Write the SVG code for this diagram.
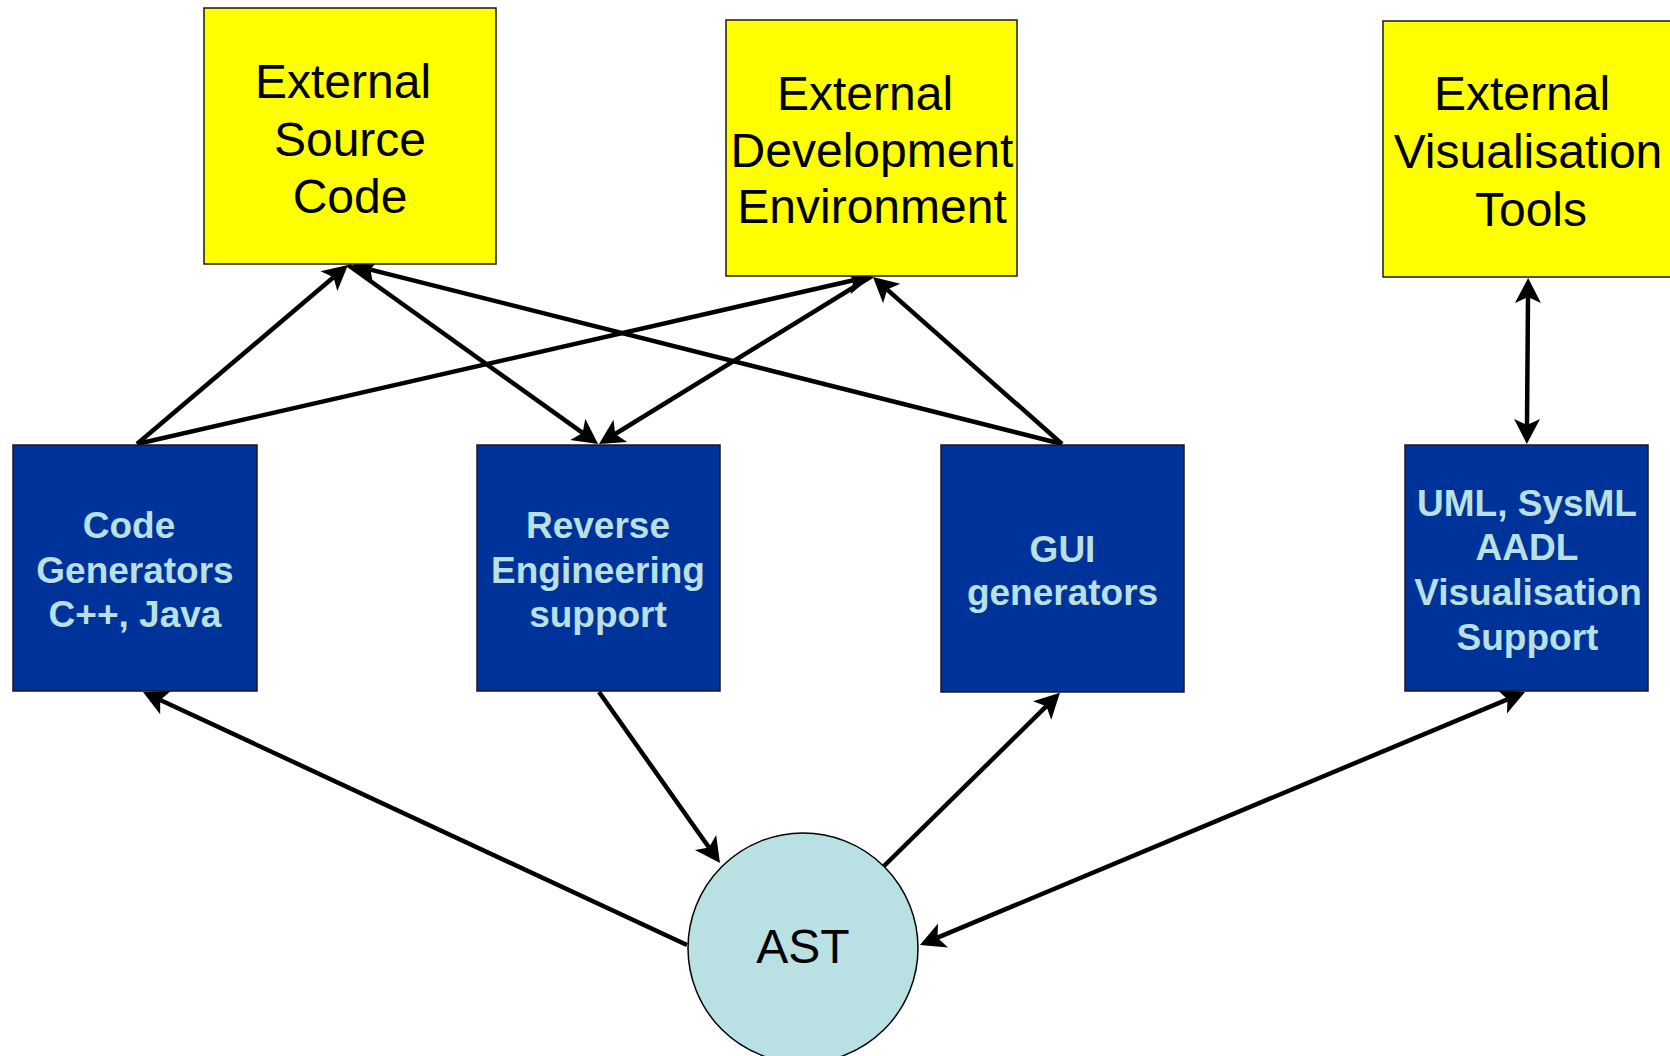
<svg xmlns="http://www.w3.org/2000/svg" width="1670" height="1056" viewBox="0 0 1670 1056">
  <style>
    .ext { fill: #FFFF00; stroke: #1a1a1a; stroke-width: 1.5; }
    .tool { fill: #003399; stroke: #1a1a1a; stroke-width: 1.5; }
    .ast { fill: #B9E0E3; stroke: #000; stroke-width: 1.5; }
    .extText { font-family: "Liberation Sans", Arial, sans-serif; font-size: 48px; fill: #000; text-anchor: middle; }
    .toolText { font-family: "Liberation Sans", Arial, sans-serif; font-size: 37px; font-weight: bold; fill: #B9E0E3; text-anchor: middle; }
    .link { fill: none; stroke: #000; stroke-width: 4.5; }
  </style>
  <defs>
    <!-- notched "stealth" head; origin sits at the notch so the line ends inside it -->
    <marker id="head" markerUnits="userSpaceOnUse" markerWidth="60" markerHeight="60" refX="0" refY="0" orient="auto-start-reverse" overflow="visible">
      <path d="M19,0 L-6,-13 L0,0 L-6,13 Z" fill="#000"/>
    </marker>
  </defs>

  <rect width="1670" height="1056" fill="#fff"/>

  <g id="connectors">
    <line class="link" x1="137" y1="444" x2="333.5" y2="277.3" marker-end="url(#head)"/>
    <line class="link" x1="137" y1="444" x2="853.5" y2="280.2" marker-end="url(#head)"/>
    <line class="link" x1="348" y1="265" x2="582.6" y2="432.9" marker-end="url(#head)"/>
    <line class="link" x1="872" y1="276" x2="615.2" y2="434" marker-end="url(#head)"/>
    <line class="link" x1="1062" y1="444" x2="370.4" y2="269.6" marker-end="url(#head)"/>
    <line class="link" x1="1062" y1="444" x2="887.2" y2="289.6" marker-end="url(#head)"/>
    <line class="link" x1="1528" y1="297" x2="1527" y2="425" marker-start="url(#head)" marker-end="url(#head)"/>
    <line class="link" x1="687" y1="945" x2="160.2" y2="700" marker-end="url(#head)"/>
    <line class="link" x1="599" y1="692" x2="709" y2="847.5" marker-end="url(#head)"/>
    <line class="link" x1="884" y1="866" x2="1046.4" y2="706.2" marker-end="url(#head)"/>
    <line class="link" x1="937.5" y1="937.7" x2="1507.5" y2="699.3" marker-start="url(#head)" marker-end="url(#head)"/>
  </g>

  <g id="ext-source-code">
    <rect class="ext" x="204" y="8" width="292" height="256"/>
    <text class="extText"><tspan x="343" y="98">External</tspan><tspan x="350" y="156">Source</tspan><tspan x="350" y="213">Code</tspan></text>
  </g>

  <g id="ext-dev-env">
    <rect class="ext" x="726" y="20" width="291" height="256"/>
    <text class="extText"><tspan x="865" y="110">External</tspan><tspan x="872" y="167">Development</tspan><tspan x="872" y="223">Environment</tspan></text>
  </g>

  <g id="ext-vis-tools">
    <rect class="ext" x="1383" y="21" width="292" height="256"/>
    <text class="extText"><tspan x="1522" y="110">External</tspan><tspan x="1528" y="168">Visualisation</tspan><tspan x="1531" y="226">Tools</tspan></text>
  </g>

  <g id="code-generators">
    <rect class="tool" x="13" y="445" width="244" height="246"/>
    <text class="toolText"><tspan x="129" y="538">Code</tspan><tspan x="135" y="583">Generators</tspan><tspan x="135" y="627">C++, Java</tspan></text>
  </g>

  <g id="reverse-engineering">
    <rect class="tool" x="477" y="445" width="243" height="246"/>
    <text class="toolText"><tspan x="598" y="538">Reverse</tspan><tspan x="598" y="583">Engineering</tspan><tspan x="598" y="627">support</tspan></text>
  </g>

  <g id="gui-generators">
    <rect class="tool" x="941" y="445" width="243" height="247"/>
    <text class="toolText"><tspan x="1062.5" y="562">GUI</tspan><tspan x="1062.5" y="605">generators</tspan></text>
  </g>

  <g id="uml-support">
    <rect class="tool" x="1405" y="445" width="243" height="246"/>
    <text class="toolText"><tspan x="1527" y="516">UML, SysML</tspan><tspan x="1527" y="560">AADL</tspan><tspan x="1528" y="605">Visualisation</tspan><tspan x="1527.5" y="650">Support</tspan></text>
  </g>

  <g id="ast">
    <circle class="ast" cx="803" cy="948" r="115"/>
    <text class="extText" x="803" y="963">AST</text>
  </g>
</svg>
